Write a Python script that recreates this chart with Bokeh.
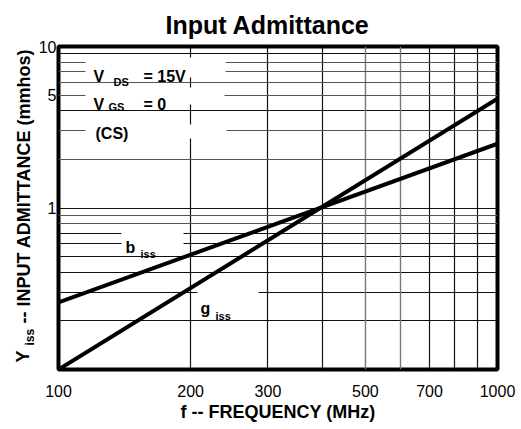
import math
from bokeh.plotting import figure
from bokeh.layouts import row
from bokeh.models import FixedTicker, Label, BoxAnnotation, Grid, BasicTickFormatter, Range1d
from bokeh.embed import file_html
from bokeh.resources import INLINE

# ---- data ----
freq_mhz = [100, 1000]
b_iss = [0.26, 2.5]      # susceptance (mmhos)
g_iss = [0.10, 4.75]     # conductance (mmhos)

x_ticks = [100, 200, 300, 500, 700, 1000]
x_tick_labels = ["100", "200", "300", "500", "700", "1000"]
y_ticks = [1, 5, 10]
y_tick_labels = ["1", "5", "10"]

x_grid_dark = [200, 300, 400, 700, 800, 900]
x_grid_light = [500, 600]
y_grid_dark = [0.2, 0.3, 0.4, 0.5, 0.6, 0.7, 1, 4, 9]
y_grid_light = [0.8, 0.9, 2, 3, 5, 6, 7, 8]

# ---- layout (picture pixels) ----
TOTAL_W, H = 521, 429
LW = 35                      # narrow strip holding the rotated y title
W = TOTAL_W - LW
FL, FR, FT, FB = 58, 497, 46, 369   # plot frame in picture px
ML, MR, MT, MB = FL - LW, TOTAL_W - FR, FT, H - FB
FONT = "Liberation Sans"

p = figure(width=W, height=H, x_axis_type="log", y_axis_type="log",
           x_range=(100, 1000), y_range=(0.1, 10),
           output_backend="svg", toolbar_location=None,
           min_border_left=ML, min_border_right=MR,
           min_border_top=MT, min_border_bottom=MB)
p.background_fill_color = "white"
p.border_fill_color = "white"
p.outline_line_color = "black"
p.outline_line_width = 4

# title
p.title.text = "Input Admittance"
p.title.text_font = FONT
p.title.text_font_size = "25px"
p.title.text_font_style = "bold"
p.title.text_color = "black"
p.title.align = "left"
p.title.offset = 107
p.title.standoff = 16

# grids
p.xgrid.ticker = FixedTicker(ticks=x_grid_dark, minor_ticks=[])
p.ygrid.ticker = FixedTicker(ticks=y_grid_dark, minor_ticks=[])
for g in (p.xgrid[0], p.ygrid[0]):
    g.grid_line_color = "#111111"
    g.grid_line_width = 1.2
    g.grid_line_alpha = 1
p.add_layout(Grid(dimension=0, ticker=FixedTicker(ticks=x_grid_light, minor_ticks=[]),
                  grid_line_color="#777777", grid_line_width=1.4))
p.add_layout(Grid(dimension=1, ticker=FixedTicker(ticks=y_grid_light, minor_ticks=[]),
                  grid_line_color="#555555", grid_line_width=1.2))

# axes
p.xaxis.ticker = FixedTicker(ticks=x_ticks, minor_ticks=[])
p.yaxis.ticker = FixedTicker(ticks=y_ticks, minor_ticks=[])
p.xaxis.formatter = BasicTickFormatter()
p.yaxis.formatter = BasicTickFormatter()
p.xaxis.major_label_overrides = {t: l for t, l in zip(x_ticks, x_tick_labels)}
p.yaxis.major_label_overrides = {t: l for t, l in zip(y_ticks, y_tick_labels)}
for ax in (p.xaxis[0], p.yaxis[0]):
    ax.axis_line_color = None
    ax.major_tick_line_color = None
    ax.minor_tick_line_color = None
    ax.major_tick_out = 0
    ax.major_tick_in = 0
    ax.minor_tick_out = 0
    ax.minor_tick_in = 0
    ax.major_label_text_font = FONT
    ax.major_label_text_font_size = "16px"
    ax.major_label_text_color = "black"
p.xaxis.major_label_standoff = 15
p.yaxis.major_label_standoff = 2
p.xaxis.axis_label = "f -- FREQUENCY (MHz)"
p.xaxis.axis_label_text_font = FONT
p.xaxis.axis_label_text_font_size = "18px"
p.xaxis.axis_label_text_font_style = "bold"
p.xaxis.axis_label_text_color = "black"
p.xaxis.axis_label_standoff = 2

# data lines
p.line(freq_mhz, b_iss, line_width=4, line_color="black")
p.line(freq_mhz, g_iss, line_width=4, line_color="black")


def xd(px):
    return 10 ** (2 + (px - FL) / (FR - FL))


def yd(py):
    return 10 ** (-1 + 2 * (FB - py) / (FB - FT))


def box(x0, x1, y0, y1):
    p.add_layout(BoxAnnotation(left=xd(x0), right=xd(x1), top=yd(y0), bottom=yd(y1),
                               fill_color="white", fill_alpha=1, line_color=None))


def txt(fig, s, x, y, size, bold=True, align="left", angle=0.0):
    fig.add_layout(Label(x=x, y=y, text=s, text_font=FONT,
                         text_font_size=f"{size}px",
                         text_font_style="bold" if bold else "normal",
                         text_align=align, text_baseline="alphabetic",
                         angle=angle, text_color="black"))


def note(s, px, py, size):
    txt(p, s, xd(px), yd(py), size)


# white backgrounds behind in-plot notes
box(85, 225, 57, 77)
box(85, 224, 87, 104)
box(85, 226, 124, 138)
box(121, 183, 227, 250)
box(197, 258, 286, 297)

# in-plot notes
note("V", 93, 76, 16)
note("DS", 113, 81, 11)
note("= 15V", 143, 76, 16)
note("V", 93, 104, 16)
note("GS", 108, 106, 11)
note("= 0", 143, 104, 16)
note("(CS)", 95, 133, 16)
note("b", 125, 247, 16)
note("iss", 140, 253, 11)
note("g", 200, 308, 16)
note("iss", 215, 315, 11)

# left strip with the rotated y-axis title; its frame is aligned with the
# main frame (rows align plot frames), so its y data = picture pixel rows
s = figure(width=LW, height=H, x_range=Range1d(0, LW), y_range=Range1d(FB, FT),
           output_backend="svg", toolbar_location=None,
           x_axis_location=None, y_axis_location=None,
           min_border_left=0, min_border_right=0,
           min_border_top=MT, min_border_bottom=MB)
s.outline_line_color = None
s.xgrid.visible = False
s.ygrid.visible = False
s.background_fill_color = "white"
s.border_fill_color = "white"
txt(s, "Y", 22.5, 362, 18, angle=math.pi / 2)
txt(s, "iss", 29.5, 345, 12, angle=math.pi / 2)
txt(s, "-- INPUT ADMITTANCE (mmhos)", 23.5, 323, 18, angle=math.pi / 2)

layout = row(s, p, spacing=0)
open("out.html", "w").write(file_html(layout, INLINE))
